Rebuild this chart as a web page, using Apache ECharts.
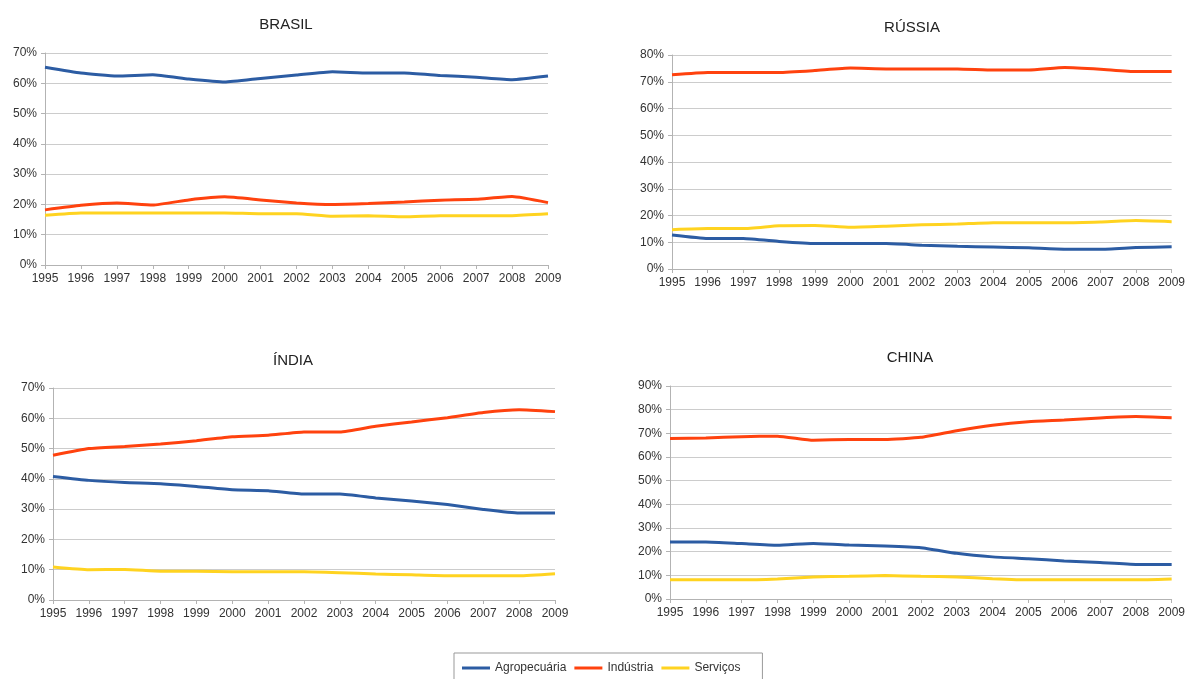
<!DOCTYPE html>
<html>
<head>
<meta charset="utf-8">
<script src="https://cdn.jsdelivr.net/npm/echarts@6/dist/echarts.min.js"></script>
<style>html,body{margin:0;padding:0;background:#fff}#c{width:1188px;height:679px}</style>
</head>
<body>
<div id="c"></div>
<script>
const years = ['1995','1996','1997','1998','1999','2000','2001','2002','2003','2004','2005','2006','2007','2008','2009'];
const seriesNames = ['Agropecuária','Indústria','Serviços'];
const countryTitles = ['BRASIL','RÚSSIA','ÍNDIA','CHINA'];
const yMax = [70, 80, 70, 90];

const brasilAgro = [65.3,63.4,62.4,62.8,61.4,60.4,61.6,62.7,63.8,63.4,63.4,62.6,62.0,61.2,62.4];
const brasilInd  = [18.2,19.7,20.5,19.8,21.5,22.5,21.5,20.5,20.0,20.3,20.8,21.4,21.7,22.6,20.6];
const brasilServ = [16.4,17.2,17.2,17.2,17.2,17.2,16.9,16.9,16.1,16.3,15.9,16.3,16.3,16.3,16.9];

const russiaAgro = [12.7,11.4,11.4,10.3,9.5,9.5,9.5,8.9,8.5,8.2,7.9,7.4,7.4,8.0,8.3];
const russiaInd  = [72.6,73.5,73.5,73.5,74.2,75.1,74.8,74.8,74.8,74.4,74.4,75.3,74.7,73.8,73.8];
const russiaServ = [14.7,15.1,15.1,16.2,16.3,15.6,16.0,16.5,16.8,17.3,17.3,17.3,17.6,18.1,17.7];

const indiaAgro = [40.8,39.5,38.8,38.4,37.5,36.4,36.1,35.0,35.0,33.7,32.7,31.5,29.9,28.7,28.7];
const indiaInd  = [47.8,50.0,50.7,51.5,52.6,53.9,54.4,55.5,55.5,57.4,58.8,60.2,61.9,62.8,62.2];
const indiaServ = [10.9,10.0,10.1,9.5,9.5,9.3,9.3,9.3,9.0,8.6,8.3,8.0,8.0,8.0,8.7];

const chinaAgro = [24.1,24.1,23.4,22.7,23.5,22.8,22.4,21.7,19.3,17.8,17.0,16.1,15.4,14.6,14.6];
const chinaInd  = [67.8,68.0,68.6,68.8,67.1,67.4,67.4,68.3,71.1,73.4,74.9,75.6,76.5,77.1,76.6];
const chinaServ = [8.1,8.1,8.1,8.5,9.3,9.6,9.9,9.6,9.3,8.6,8.1,8.1,8.1,8.1,8.5];

const countryData = [
  [brasilAgro, brasilInd, brasilServ],
  [russiaAgro, russiaInd, russiaServ],
  [indiaAgro, indiaInd, indiaServ],
  [chinaAgro, chinaInd, chinaServ]
];

const colors = ['#2c5ca3', '#ff420e', '#ffd320'];
const grids = [
  {left: 45, top: 53, width: 503, height: 212},
  {left: 672, top: 55, width: 502, height: 214},
  {left: 53, top: 388, width: 502, height: 212},
  {left: 670, top: 386, width: 502, height: 213}
];
const titlePos = [[286, 17], [912, 20], [293, 353], [910, 350]];

const chart = echarts.init(document.getElementById('c'));
const font = 'Liberation Sans, Arial, sans-serif';
const option = {
  animation: false,
  color: colors,
  title: countryTitles.map((t, i) => ({
    text: t, left: titlePos[i][0], top: titlePos[i][1], textAlign: 'center', padding: 0,
    textStyle: {fontFamily: font, fontSize: 15, fontWeight: 'normal', color: '#222'}
  })),
  legend: {
    data: seriesNames, left: 454, top: 653, padding: [9, 22, 14, 8],
    borderColor: '#999', borderWidth: 1, icon: 'rect', itemWidth: 28, itemHeight: 3, itemGap: 8,
    textStyle: {fontFamily: font, fontSize: 12, color: '#333'}
  },
  grid: grids.map(g => Object.assign({containLabel: false}, g)),
  xAxis: grids.map((g, i) => ({
    type: 'category', gridIndex: i, data: years, boundaryGap: false,
    axisLine: {lineStyle: {color: '#b3b3b3', width: 1}},
    axisTick: {show: true, length: 4, alignWithLabel: true, lineStyle: {color: '#b3b3b3'}},
    axisLabel: {fontFamily: font, fontSize: 12, color: '#333', margin: 8, interval: 0},
    splitLine: {show: false}
  })),
  yAxis: grids.map((g, i) => ({
    type: 'value', gridIndex: i, min: 0, max: yMax[i], interval: 10,
    axisLine: {show: true, lineStyle: {color: '#b3b3b3', width: 1}},
    axisTick: {show: true, length: 4, lineStyle: {color: '#b3b3b3'}},
    axisLabel: {fontFamily: font, fontSize: 12, color: '#333', margin: 8, formatter: '{value}%'},
    splitLine: {show: true, lineStyle: {color: '#cccccc', width: 1}}
  })),
  series: []
};
countryData.forEach((arr, i) => {
  arr.forEach((vals, k) => {
    option.series.push({
      name: seriesNames[k], type: 'line', xAxisIndex: i, yAxisIndex: i,
      data: vals, symbol: 'none', smooth: 0.15,
      lineStyle: {width: 3, color: colors[k]}, itemStyle: {color: colors[k]}
    });
  });
});
chart.setOption(option);
</script>
</body>
</html>
